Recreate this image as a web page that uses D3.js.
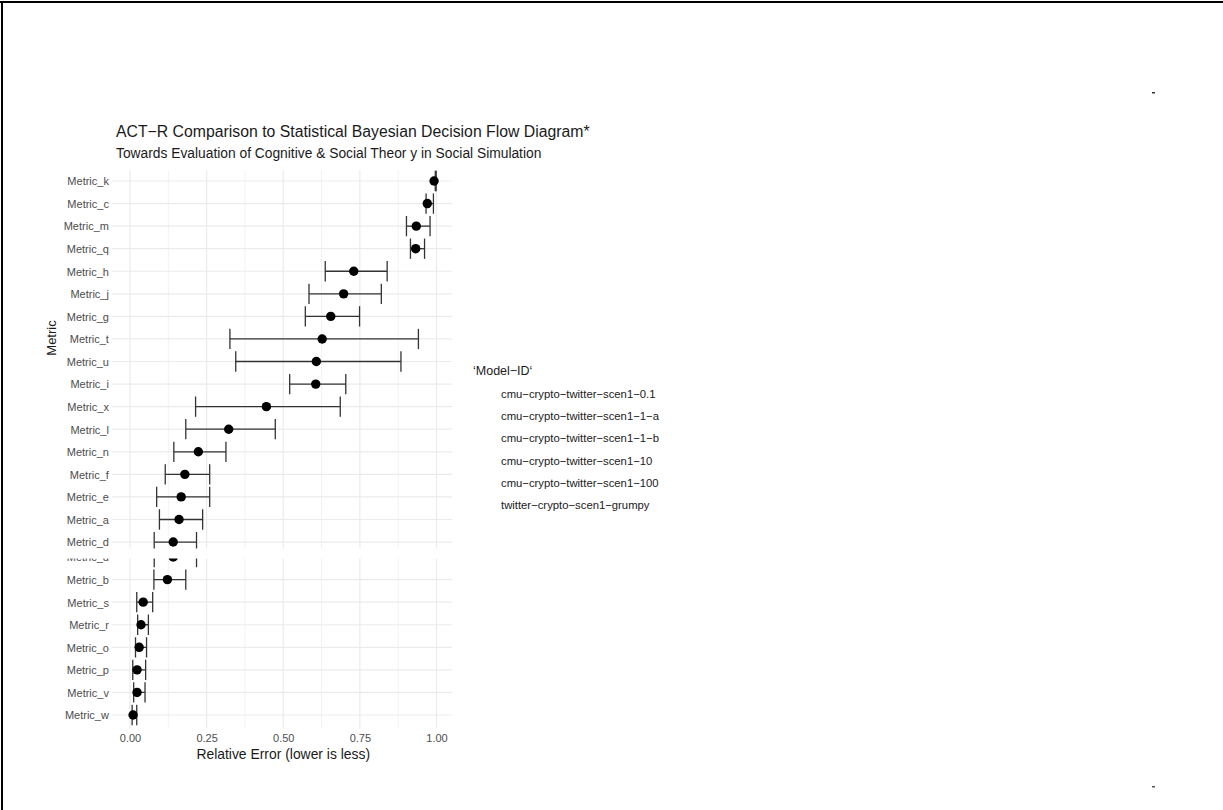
<!DOCTYPE html>
<html>
<head>
<meta charset="utf-8">
<script src="https://cdn.jsdelivr.net/npm/d3@7"></script>
<style>
  html, body { margin: 0; padding: 0; background: #fff; }
  svg { display: block; font-family: "Liberation Sans", Arial, sans-serif; }
</style>
</head>
<body>
<svg id="chart" width="1223" height="810"></svg>
<script>
// Metrics, top to bottom, with mean relative error and interval bounds
const metrics = ["Metric_k","Metric_c","Metric_m","Metric_q","Metric_h","Metric_j","Metric_g",
  "Metric_t","Metric_u","Metric_i","Metric_x","Metric_l","Metric_n","Metric_f","Metric_e",
  "Metric_a","Metric_d","Metric_b","Metric_s","Metric_r","Metric_o","Metric_p","Metric_v","Metric_w"];
const meanErr = [0.992,0.970,0.934,0.932,0.730,0.697,0.655,0.627,0.608,0.606,0.445,0.322,
  0.223,0.179,0.167,0.160,0.141,0.122,0.043,0.036,0.030,0.023,0.023,0.010];
const lowErr  = [0.996,0.966,0.902,0.915,0.637,0.584,0.572,0.326,0.345,0.521,0.214,0.182,
  0.143,0.115,0.087,0.096,0.079,0.078,0.022,0.025,0.018,0.009,0.012,0.007];
const highErr = [0.999,0.990,0.979,0.961,0.839,0.820,0.749,0.941,0.884,0.704,0.686,0.474,
  0.313,0.260,0.260,0.237,0.217,0.182,0.074,0.060,0.054,0.051,0.049,0.022];
const xTicks = [0, 0.25, 0.5, 0.75, 1.0];
const xMinor = [0.125, 0.375, 0.625, 0.875];
const modelIds = ["cmu−crypto−twitter−scen1−0.1","cmu−crypto−twitter−scen1−1−a",
  "cmu−crypto−twitter−scen1−1−b","cmu−crypto−twitter−scen1−10",
  "cmu−crypto−twitter−scen1−100","twitter−crypto−scen1−grumpy"];

const rows = metrics.map((m, i) => ({ metric: m, mean: meanErr[i], lo: lowErr[i], hi: highErr[i] }));

const svg = d3.select("#chart");

// Scales
const x = d3.scaleLinear().domain([0, 1]).range([130, 436.5]);
const y = d3.scalePoint().domain(metrics).range([181, 700]);
const step = y.step();
const panelLeft = x(-0.059), panelRight = x(1.05);
const panelTop = 170, panelBottom = y(metrics[metrics.length - 1]) + 0.6 * step;

// Page frame
svg.append("rect").attr("x", 0).attr("y", 1).attr("width", 1223).attr("height", 2).attr("fill", "#000");
svg.append("rect").attr("x", 1).attr("y", 1).attr("width", 2).attr("height", 809).attr("fill", "#000");
svg.append("rect").attr("x", 1152).attr("y", 92).attr("width", 3).attr("height", 1.5).attr("fill", "#333");
svg.append("rect").attr("x", 1152).attr("y", 786).attr("width", 3).attr("height", 1.5).attr("fill", "#555");

const defs = svg.append("defs");

// The figure is laid out across two page slices: an upper part, and a lower
// part shifted down with a blank strip between them.
const shift = 15, cutTop = 548.5, resume = 558.5;

function drawChart(g, part) {
  const upper = part === "upper";
  // rows whose labels reach into this slice
  const labelRows = metrics.filter(m => upper ? y(m) - 6 < cutTop : y(m) + shift + 7 > resume);

  // grid
  const grid = g.append("g");
  grid.selectAll("line.minor").data(xMinor).join("line")
    .attr("x1", d => x(d)).attr("x2", d => x(d))
    .attr("y1", panelTop).attr("y2", panelBottom)
    .attr("stroke", "#f2f2f2").attr("stroke-width", 1);
  grid.selectAll("line.major").data(xTicks).join("line")
    .attr("x1", d => x(d)).attr("x2", d => x(d))
    .attr("y1", panelTop).attr("y2", panelBottom)
    .attr("stroke", "#ebebeb").attr("stroke-width", 1.2);
  grid.selectAll("line.h").data(metrics).join("line")
    .attr("x1", panelLeft).attr("x2", panelRight)
    .attr("y1", d => y(d)).attr("y2", d => y(d))
    .attr("stroke", "#ebebeb").attr("stroke-width", 1.2);

  // error bars
  const capH = 0.9 * step;
  const eb = g.append("g").attr("stroke", "#333").attr("stroke-width", 1.3).attr("fill", "none");
  eb.selectAll("line.span").data(rows).join("line")
    .attr("x1", d => x(d.lo)).attr("x2", d => x(d.hi))
    .attr("y1", d => y(d.metric)).attr("y2", d => y(d.metric));
  eb.selectAll("line.lo").data(rows).join("line")
    .attr("x1", d => x(d.lo)).attr("x2", d => x(d.lo))
    .attr("y1", d => y(d.metric) - capH / 2).attr("y2", d => y(d.metric) + capH / 2);
  eb.selectAll("line.hi").data(rows).join("line")
    .attr("x1", d => x(d.hi)).attr("x2", d => x(d.hi))
    .attr("y1", d => y(d.metric) - capH / 2).attr("y2", d => y(d.metric) + capH / 2);

  // points
  g.append("g").selectAll("circle").data(rows).join("circle")
    .attr("cx", d => x(d.mean)).attr("cy", d => y(d.metric)).attr("r", 4.7)
    .attr("fill", "#000");

  // y axis labels
  const ya = g.append("g").attr("transform", `translate(${panelLeft - 3},0)`)
    .call(d3.axisLeft(y).tickValues(labelRows).tickSize(0).tickPadding(0));
  ya.select(".domain").remove();
  ya.selectAll("text").attr("font-size", 11).attr("fill", "#4d4d4d")
    .attr("font-family", "Liberation Sans, Arial, sans-serif").attr("dy", "0.35em");

  if (upper) {
    g.append("text").attr("transform", "translate(56,338) rotate(-90)")
      .attr("text-anchor", "middle").attr("font-size", 13).attr("fill", "#1a1a1a")
      .text("Metric");
    g.append("text").attr("x", 116).attr("y", 137).attr("font-size", 15.8).attr("fill", "#1a1a1a")
      .text("ACT−R Comparison to Statistical Bayesian Decision Flow Diagram*");
    g.append("text").attr("x", 116).attr("y", 157.5).attr("font-size", 13.8).attr("fill", "#1a1a1a")
      .text("Towards Evaluation of Cognitive & Social Theor y in Social Simulation");
  } else {
    const xa = g.append("g").attr("transform", `translate(0,${panelBottom + 4})`)
      .call(d3.axisBottom(x).tickValues(xTicks).tickFormat(d3.format(".2f")).tickSize(0).tickPadding(2));
    xa.select(".domain").remove();
    xa.selectAll("text").attr("font-size", 11).attr("fill", "#4d4d4d")
      .attr("font-family", "Liberation Sans, Arial, sans-serif");
    g.append("text").attr("x", (x(0) + x(1)) / 2).attr("y", panelBottom + 30)
      .attr("text-anchor", "middle").attr("font-size", 13.9).attr("fill", "#1a1a1a")
      .text("Relative Error (lower is less)");
  }
}

defs.append("clipPath").attr("id", "clipUpper").attr("clipPathUnits", "userSpaceOnUse")
  .append("rect").attr("x", 0).attr("y", 0).attr("width", 1223).attr("height", cutTop);
defs.append("clipPath").attr("id", "clipLower").attr("clipPathUnits", "userSpaceOnUse")
  .append("rect").attr("x", 0).attr("y", resume - shift).attr("width", 1223).attr("height", 810);

drawChart(svg.append("g").attr("clip-path", "url(#clipUpper)"), "upper");
drawChart(svg.append("g").attr("transform", `translate(0,${shift})`)
  .append("g").attr("clip-path", "url(#clipLower)"), "lower");

// legend (keys carry no visible glyphs)
const legend = svg.append("g").attr("transform", "translate(473,0)");
legend.append("text").attr("x", 0).attr("y", 375).attr("font-size", 12.5).attr("fill", "#1a1a1a")
  .text("‘Model−ID‘");
legend.selectAll("text.item").data(modelIds).join("text")
  .attr("class", "item")
  .attr("x", 28).attr("y", (d, i) => 398 + i * 22.2)
  .attr("font-size", 11.3).attr("fill", "#1a1a1a")
  .text(d => d);
</script>
</body>
</html>
